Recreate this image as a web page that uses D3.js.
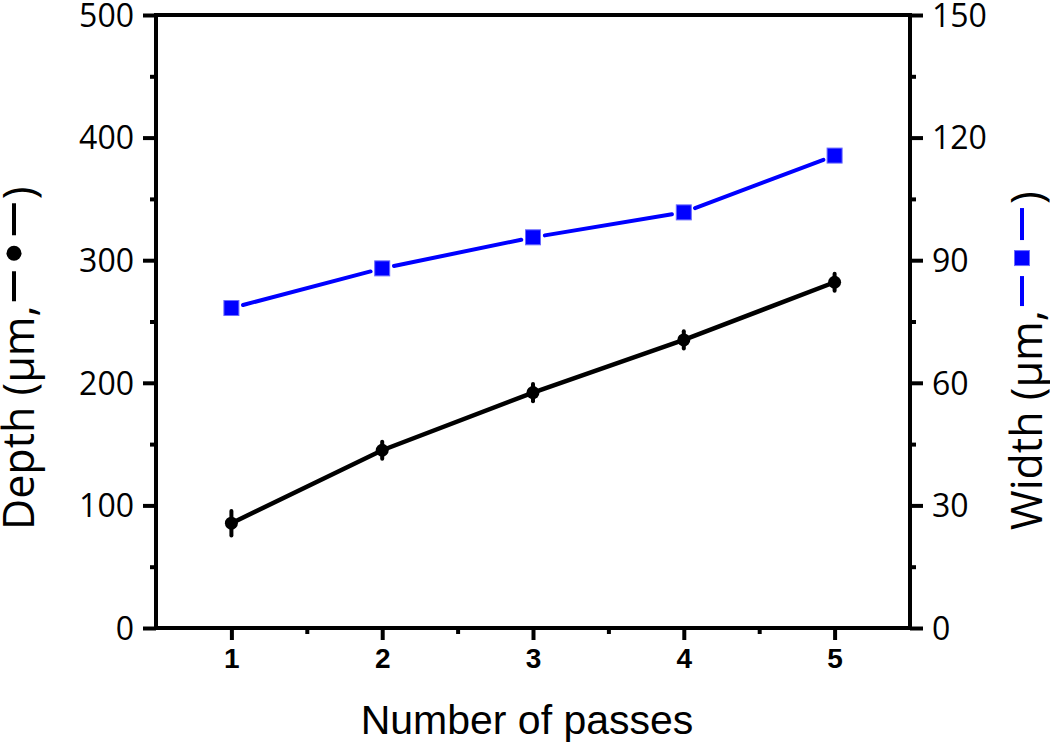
<!DOCTYPE html>
<html>
<head>
<meta charset="utf-8">
<script src="https://cdn.jsdelivr.net/npm/d3@7"></script>
<style>
  body { margin: 0; background: #fff; }
  .tick-l text, .tick-r text { font-family: "Open Sans", sans-serif; font-size: 32px; }
</style>
</head>
<body>
<div id="chart-area"></div>
<script>
// data
const passes = [1, 2, 3, 4, 5];
const depth = [85.5, 145, 192, 235, 282];
const depthErr = [10, 7, 7, 7, 7];
const width = [78.3, 88.0, 95.6, 101.7, 115.6];
const leftTicks = [0, 100, 200, 300, 400, 500];
const rightTicks = [0, 30, 60, 90, 120, 150];

const W = 1050, H = 751;
const plot = { left: 156, right: 910, top: 15, bottom: 628 };

let svg = d3.select("#chart-area").append("svg")
  .attr("width", W).attr("height", H);

let x = d3.scaleLinear().domain([0.5, 5.5]).range([plot.left, plot.right]);
let yL = d3.scaleLinear().domain([0, 500]).range([plot.bottom, plot.top]);
let yR = d3.scaleLinear().domain([0, 150]).range([plot.bottom, plot.top]);

// ---- AXES ----
function styleAxis(g) {
  g.select(".domain").remove();
  g.selectAll("line").attr("stroke", "#000").attr("stroke-width", 4);
}

// minor ticks
svg.append("g").attr("transform", `translate(${plot.left},0)`)
  .call(d3.axisLeft(yL).tickValues(d3.range(50, 500, 100)).tickSize(6).tickFormat(""))
  .call(styleAxis);
svg.append("g").attr("transform", `translate(${plot.right},0)`)
  .call(d3.axisRight(yR).tickValues(d3.range(15, 150, 30)).tickSize(6).tickFormat(""))
  .call(styleAxis);
svg.append("g").attr("transform", `translate(0,${plot.bottom})`)
  .call(d3.axisBottom(x).tickValues([1.5, 2.5, 3.5, 4.5]).tickSize(6).tickFormat(""))
  .call(styleAxis);

// major ticks
let leftAxis = svg.append("g").attr("class", "tick-l")
  .attr("transform", `translate(${plot.left},0)`)
  .call(d3.axisLeft(yL).tickValues(leftTicks).tickSize(13).tickPadding(9))
  .call(styleAxis);
leftAxis.selectAll("text").attr("fill", "#000").attr("dy", "0.35em");

let rightAxis = svg.append("g").attr("class", "tick-r")
  .attr("transform", `translate(${plot.right},0)`)
  .call(d3.axisRight(yR).tickValues(rightTicks).tickSize(13).tickPadding(9))
  .call(styleAxis);
rightAxis.selectAll("text").attr("fill", "#000").attr("dy", "0.35em");

let bottomAxis = svg.append("g")
  .attr("transform", `translate(0,${plot.bottom})`)
  .call(d3.axisBottom(x).tickValues(passes).tickSize(12).tickPadding(8).tickFormat(d3.format("d")))
  .call(styleAxis);
bottomAxis.selectAll("text")
  .attr("fill", "#000")
  .style("font-family", "Liberation Sans, Arial, sans-serif")
  .style("font-weight", "bold")
  .style("font-size", "28px");

// frame
svg.append("rect")
  .attr("x", plot.left).attr("y", plot.top)
  .attr("width", plot.right - plot.left).attr("height", plot.bottom - plot.top)
  .attr("fill", "none").attr("stroke", "#000").attr("stroke-width", 4);

// ---- WIDTH SERIES (blue, line with gaps at markers) ----
const gap = 12;
for (let i = 0; i < passes.length - 1; i++) {
  let x1 = x(passes[i]), y1 = yR(width[i]);
  let x2 = x(passes[i + 1]), y2 = yR(width[i + 1]);
  let len = Math.hypot(x2 - x1, y2 - y1);
  let ux = (x2 - x1) / len, uy = (y2 - y1) / len;
  svg.append("line")
    .attr("x1", x1 + ux * gap).attr("y1", y1 + uy * gap)
    .attr("x2", x2 - ux * gap).attr("y2", y2 - uy * gap)
    .attr("stroke", "#0000ff").attr("stroke-width", 4).attr("stroke-linecap", "round");
}
svg.selectAll(".sq").data(passes).enter().append("rect")
  .attr("class", "sq")
  .attr("x", (d) => x(d) - 7.5)
  .attr("y", (d, i) => yR(width[i]) - 7.5)
  .attr("width", 15).attr("height", 15)
  .attr("fill", "#0000ff").attr("stroke", "#6a6aff").attr("stroke-width", 1);

// ---- DEPTH SERIES (black) ----
svg.append("path")
  .datum(passes)
  .attr("fill", "none").attr("stroke", "#000").attr("stroke-width", 4.5)
  .attr("d", d3.line().x((d) => x(d)).y((d, i) => yL(depth[i])));

svg.selectAll(".err").data(passes).enter().append("line")
  .attr("class", "err")
  .attr("x1", (d) => x(d)).attr("x2", (d) => x(d))
  .attr("y1", (d, i) => yL(depth[i] - depthErr[i]))
  .attr("y2", (d, i) => yL(depth[i] + depthErr[i]))
  .attr("stroke", "#000").attr("stroke-width", 4).attr("stroke-linecap", "round");
svg.selectAll(".dot").data(passes).enter().append("circle")
  .attr("class", "dot")
  .attr("cx", (d) => x(d)).attr("cy", (d, i) => yL(depth[i]))
  .attr("r", 6.5).attr("fill", "#000");

// ---- AXIS TITLES ----
svg.append("text")
  .attr("x", 527).attr("y", 734)
  .attr("text-anchor", "middle")
  .style("font-family", "Liberation Sans, Arial, sans-serif")
  .style("font-size", "41px")
  .text("Number of passes");

function yTitle(tx, label, symbol, color) {
  let g = svg.append("g").attr("transform", `translate(${tx},530) rotate(-90)`);
  let t = g.append("text").attr("x", 0).attr("y", 0)
    .style("font-family", "Open Sans, sans-serif").style("font-size", "43px")
    .text(label);
  let L = t.node().getComputedTextLength();
  let sy = -20;
  g.append("line").attr("x1", L + 4).attr("x2", L + 34).attr("y1", sy).attr("y2", sy)
    .attr("stroke", color).attr("stroke-width", 4);
  if (symbol === "circle") {
    g.append("circle").attr("cx", L + 52).attr("cy", sy).attr("r", 7.5).attr("fill", color);
  } else {
    g.append("rect").attr("x", L + 44.5).attr("y", sy - 7.5).attr("width", 15).attr("height", 15)
      .attr("fill", color).attr("stroke", "#6a6aff").attr("stroke-width", 1);
  }
  g.append("line").attr("x1", L + 70).attr("x2", L + 102).attr("y1", sy).attr("y2", sy)
    .attr("stroke", color).attr("stroke-width", 4);
  g.append("text").attr("x", L + 106).attr("y", 0)
    .style("font-family", "Open Sans, sans-serif").style("font-size", "43px")
    .text(")");
}
yTitle(34, "Depth (\u03bcm,", "circle", "#000");
yTitle(1042, "Width (\u03bcm,", "square", "#0000ff");
</script>
</body>
</html>
